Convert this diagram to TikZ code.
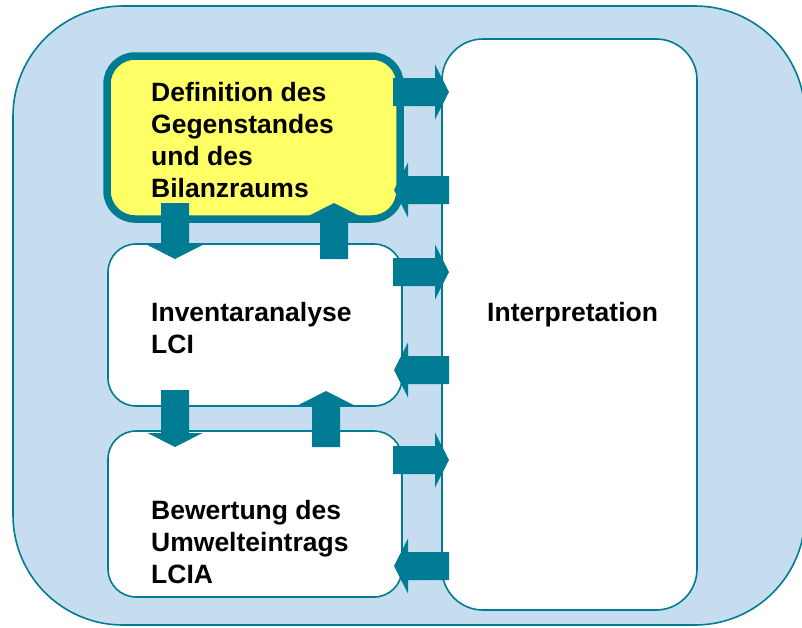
\documentclass[tikz,border=0pt]{standalone}
\usepackage{fontspec}
\setmainfont{Liberation Sans}
\usetikzlibrary{calc}

\definecolor{lcateal}{RGB}{0,123,148}
\definecolor{lcablue}{RGB}{198,220,239}
\definecolor{lcayellow}{RGB}{255,255,102}

% Block arrow from #1 to #2: shaft 28 wide, head 55 wide and 14 long
\newcommand\blkarrow[2]{%
  \path ($(#2)!14pt!(#1)$) coordinate (bh);
  \fill[arrowfill] ($(#1)!14pt!90:(#2)$) -- ($(bh)!14pt!90:(#2)$)
    -- ($(bh)!27.5pt!90:(#2)$) -- (#2) -- ($(bh)!27.5pt!-90:(#2)$)
    -- ($(bh)!14pt!-90:(#2)$) -- ($(#1)!14pt!-90:(#2)$) -- cycle;
}

\begin{document}
\begin{tikzpicture}[x=1pt,y=-1pt,
  phase/.style={draw=lcateal, line width=1.6pt, fill=white,
    rounded corners=28pt, inner sep=0pt, outer sep=0pt},
  phasetext/.style={anchor=north west, inner sep=0pt, align=left,
    font=\fontsize{26.5}{32}\selectfont\bfseries},
  arrowfill/.style={fill=lcateal}]

\useasboundingbox (0,0) rectangle (802,627);
\clip (0,0) rectangle (802,627);

% outer frame
\path[fill=lcablue, draw=lcateal, line width=1.6pt, rounded corners=110pt]
  (13,6) rectangle (805,625);

% phase boxes
\node[phase, minimum width=255pt, minimum height=571pt, rounded corners=41pt]
  (interp) at (569.5,324.5) {};
\node[phase, fill=lcayellow, line width=7.5pt, minimum width=293pt,
  minimum height=163pt] (def) at (253.5,137.5) {};
\node[phase, minimum width=294pt, minimum height=162pt] (lci) at (255,325) {};
\node[phase, minimum width=294pt, minimum height=166pt] (lcia) at (255,514) {};

% texts
\node[phasetext] (deftext) at (151,82) {Definition des\\Gegenstandes\\und des\\Bilanzraums};
\node[phasetext] (lcitext) at (151,302) {Inventaranalyse\\LCI};
\node[phasetext] (lciatext) at (151,500) {Bewertung des\\Umwelteintrags\\LCIA};
\node[phasetext] (interptext) at (487,302) {Interpretation};

% arrow end points
\coordinate (a1s) at (393,92);  \coordinate (a1e) at (449,92);
\coordinate (a2s) at (449,190); \coordinate (a2e) at (394,190);
\coordinate (a3s) at (393,272); \coordinate (a3e) at (449,272);
\coordinate (a4s) at (449,370); \coordinate (a4e) at (394,370);
\coordinate (a5s) at (393,460); \coordinate (a5e) at (449,460);
\coordinate (a6s) at (449,566); \coordinate (a6e) at (394,566);
\coordinate (v1s) at (175,203); \coordinate (v1e) at (175,259);
\coordinate (v2s) at (334,259); \coordinate (v2e) at (334,203);
\coordinate (v3s) at (175,390); \coordinate (v3e) at (175,447);
\coordinate (v4s) at (326,447); \coordinate (v4e) at (326,391);

% block arrows
\blkarrow{a1s}{a1e}
\blkarrow{a2s}{a2e}
\blkarrow{a3s}{a3e}
\blkarrow{a4s}{a4e}
\blkarrow{a5s}{a5e}
\blkarrow{a6s}{a6e}
\blkarrow{v1s}{v1e}
\blkarrow{v2s}{v2e}
\blkarrow{v3s}{v3e}
\blkarrow{v4s}{v4e}

\end{tikzpicture}
\end{document}
